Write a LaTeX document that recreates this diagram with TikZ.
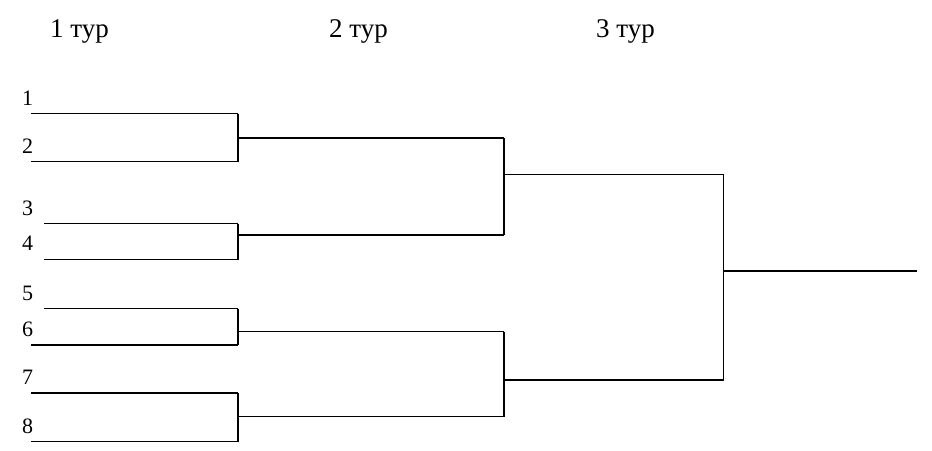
\documentclass[tikz,border=0pt]{standalone}
\usepackage{fontspec}
\setmainfont{Liberation Serif}
\begin{document}
\begin{tikzpicture}[x=1pt, y=-1pt,
    lbl/.style={anchor=base, inner sep=0pt, font=\fontsize{22}{22}\selectfont},
    hdr/.style={anchor=base west, inner sep=0pt, font=\fontsize{27}{27}\selectfont},
    wire/.style={line width=1.2pt},
    post/.style={line width=1.8pt}]
    \useasboundingbox (0,0) rectangle (932,450);
    % headings
    \foreach \r/\x in {1/50, 2/329, 3/596}
        \node[hdr] (tour\r) at (\x,37) {\r\ тур};
    % players and their lines
    \foreach \n/\yb/\yl/\xl in {
        1/105/113.5/31, 2/153/161.5/31, 3/215/223.5/44, 4/250.5/259.5/44,
        5/300/308.5/44, 6/336.5/345/31, 7/384/393/31, 8/433/441.5/31
    } {
        \node[lbl] (p\n) at (27.5,\yb) {\n};
        \coordinate (a\n) at (\xl,\yl);
    }
    % first round
    \foreach \m/\i/\j/\yo in {1/1/2/138, 2/3/4/235, 3/5/6/331.5, 4/7/8/416.5} {
        \coordinate (b\m) at (238,\yo);
        \coordinate (c\m) at (504,\yo);
        \draw[wire] (a\i) -- (a\i -| b\m) (a\j) -- (a\j -| b\m);
        \draw[post] (a\i -| b\m) -- (a\j -| b\m);
        \draw[wire] (b\m) -- (c\m);
    }
    % second round
    \foreach \s/\i/\j/\yo in {1/1/2/174.5, 2/3/4/380} {
        \coordinate (d\s) at (504,\yo);
        \coordinate (e\s) at (723.5,\yo);
        \draw[wire] (c\i) -- (c\j);
        \draw[wire] (d\s) -- (e\s);
    }
    % third round
    \coordinate (win) at (917,271);
    \draw[post] (e1) -- (e2);
    \draw[wire] (win -| e1) -- (win);
\end{tikzpicture}
\end{document}
